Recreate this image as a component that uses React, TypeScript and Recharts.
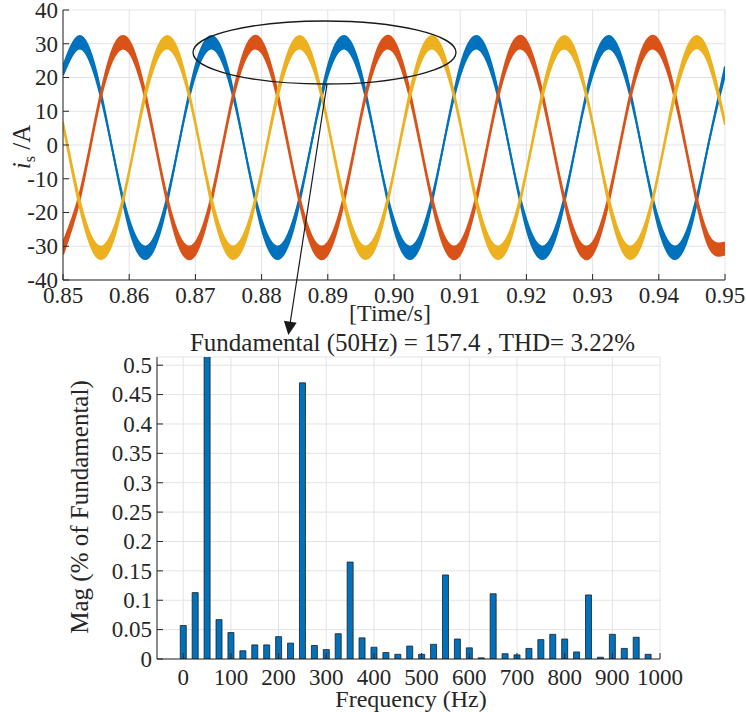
import React from "react";
import { ComposedChart, Area, Bar, XAxis, YAxis, CartesianGrid } from "recharts";

// time axis of the current waveform (s)
const times = [
  0.85, 0.8525, 0.855, 0.8575, 0.86, 0.8625, 0.865, 0.8675,
  0.87, 0.8725, 0.875, 0.8775, 0.88, 0.8825, 0.885, 0.8875,
  0.89, 0.8925, 0.895, 0.8975, 0.9, 0.9025, 0.905, 0.9075,
  0.91, 0.9125, 0.915, 0.9175, 0.92, 0.9225, 0.925, 0.9275,
  0.93, 0.9325, 0.935, 0.9375, 0.94, 0.9425, 0.945, 0.9475,
  0.95,
];

// phase currents: lower / upper edge of the ripple band (A)
const phaseALo = [
  20.7, 28.6, 19.4, -1.8, -24.8, -33.8, -23.4, 0.2,
  20.7, 28.6, 19.4, -1.8, -24.8, -33.8, -23.4, 0.2,
  20.7, 28.6, 19.4, -1.8, -24.8, -33.8, -23.4, 0.2,
  20.7, 28.6, 19.4, -1.8, -24.8, -33.8, -23.4, 0.2,
  20.7, 28.6, 19.4, -1.8, -24.8, -33.8, -23.4, 0.2,
  20.7,
];
const phaseAHi = [
  23.3, 32.3, 21.9, -1.7, -22.2, -30.1, -20.9, 0.3,
  23.3, 32.3, 21.9, -1.7, -22.2, -30.1, -20.9, 0.3,
  23.3, 32.3, 21.9, -1.7, -22.2, -30.1, -20.9, 0.3,
  23.3, 32.3, 21.9, -1.7, -22.2, -30.1, -20.9, 0.3,
  23.3, 32.3, 21.9, -1.7, -22.2, -30.1, -20.9, 0.3,
  23.3,
];
const phaseBLo = [
  -32.4, -16.4, 7.7, 25.2, 27.4, 13.1, -10.3, -29.9,
  -32.4, -16.4, 7.7, 25.2, 27.4, 13.1, -10.3, -29.9,
  -32.4, -16.4, 7.7, 25.2, 27.4, 13.1, -10.3, -29.9,
  -32.4, -16.4, 7.7, 25.2, 27.4, 13.1, -10.3, -29.9,
  -32.4, -16.4, 7.7, 25.2, 27.4, 13.1, -10.3, -29.9,
  -32.4,
];
const phaseBHi = [
  -28.9, -14.6, 8.8, 28.4, 30.9, 14.9, -9.2, -26.7,
  -28.9, -14.6, 8.8, 28.4, 30.9, 14.9, -9.2, -26.7,
  -28.9, -14.6, 8.8, 28.4, 30.9, 14.9, -9.2, -26.7,
  -28.9, -14.6, 8.8, 28.4, 30.9, 14.9, -9.2, -26.7,
  -28.9, -14.6, 8.8, 28.4, 30.9, 14.9, -9.2, -26.7,
  -28.9,
];
const phaseCLo = [
  6.0, -18.2, -32.9, -28.8, -8.3, 14.7, 27.9, 24.2,
  6.0, -18.2, -32.9, -28.8, -8.3, 14.7, 27.9, 24.2,
  6.0, -18.2, -32.9, -28.8, -8.3, 14.7, 27.9, 24.2,
  6.0, -18.2, -32.9, -28.8, -8.3, 14.7, 27.9, 24.2,
  6.0, -18.2, -32.9, -28.8, -8.3, 14.7, 27.9, 24.2,
  6.0,
];
const phaseCHi = [
  6.8, -16.2, -29.4, -25.7, -7.5, 16.7, 31.4, 27.3,
  6.8, -16.2, -29.4, -25.7, -7.5, 16.7, 31.4, 27.3,
  6.8, -16.2, -29.4, -25.7, -7.5, 16.7, 31.4, 27.3,
  6.8, -16.2, -29.4, -25.7, -7.5, 16.7, 31.4, 27.3,
  6.8, -16.2, -29.4, -25.7, -7.5, 16.7, 31.4, 27.3,
  6.8,
];

// FFT spectrum, % of fundamental (the 50 Hz bar runs off the top)
const freqs = [
  0, 25, 50, 75, 100, 125, 150, 175, 200, 225,
  250, 275, 300, 325, 350, 375, 400, 425, 450, 475,
  500, 525, 550, 575, 600, 625, 650, 675, 700, 725,
  750, 775, 800, 825, 850, 875, 900, 925, 950, 975,
];
const mags = [
  0.057, 0.113, 100, 0.067, 0.045, 0.014, 0.024, 0.024, 0.038, 0.027,
  0.47, 0.023, 0.016, 0.043, 0.165, 0.036, 0.02, 0.011, 0.008, 0.022,
  0.008, 0.025, 0.143, 0.034, 0.019, 0.002, 0.111, 0.009, 0.007, 0.018,
  0.033, 0.042, 0.034, 0.012, 0.109, 0.003, 0.042, 0.018, 0.037, 0.008,
];

const timeTicks = [0.85, 0.86, 0.87, 0.88, 0.89, 0.9, 0.91, 0.92, 0.93, 0.94, 0.95];
const currentTicks = [-40, -30, -20, -10, 0, 10, 20, 30, 40];
const freqTicks = [0, 100, 200, 300, 400, 500, 600, 700, 800, 900, 1000];
const magTicks = [0, 0.05, 0.1, 0.15, 0.2, 0.25, 0.3, 0.35, 0.4, 0.45, 0.5];

const FONT = "'Liberation Serif', 'Times New Roman', serif";
const INK = "#262626";
const GRID = "#e3e3e3";
const BLUE = "#0072BD";
const ORANGE = "#D95319";
const YELLOW = "#EDB120";

const waveData = times.map((t, i) => ({
  t,
  aLo: phaseALo[i], aHi: phaseAHi[i],
  bLo: phaseBLo[i], bHi: phaseBHi[i],
  cLo: phaseCLo[i], cHi: phaseCHi[i],
}));
const spectrum = freqs.map((f, i) => ({ f, mag: mags[i] }));

const inkLine = { stroke: INK, strokeWidth: 1 };
const serif = { fontFamily: FONT };

// serif tick labels, MATLAB style
function BottomTick(props: any) {
  const { x, y, payload, fmt } = props;
  const v = payload.value;
  return (
    <text x={x} y={y} dy="0.71em" textAnchor="middle" style={serif} fontSize={23} fill={INK}>
      {fmt ? fmt(v) : String(v)}
    </text>
  );
}

function LeftTick(props: any) {
  const { x, y, payload } = props;
  return (
    <text x={x} y={y} dy="0.34em" textAnchor="end" style={serif} fontSize={23} fill={INK}>
      {String(payload.value)}
    </text>
  );
}

export default function App() {
  return (
    <div style={{ position: "absolute", left: 0, top: 0, width: 746, height: 712, background: "#fff", ...serif }}>
      <div style={{ position: "absolute", left: 0, top: 0 }}>
        <ComposedChart width={746} height={330} data={waveData} margin={{ top: 10, right: 21, left: 0, bottom: 0 }}>
          <CartesianGrid stroke={GRID} strokeWidth={1} />
          <XAxis dataKey="t" type="number" domain={[0.85, 0.95]} ticks={timeTicks} allowDataOverflow
            interval={0} height={50} tickSize={-6} tickMargin={13}
            tick={(p: any) => <BottomTick {...p} fmt={(v: number) => v.toFixed(2)} />}
            axisLine={inkLine} tickLine={inkLine} />
          <XAxis xAxisId="top" orientation="top" type="number" domain={[0.85, 0.95]} ticks={timeTicks}
            allowDataOverflow height={0} tickSize={-6} tick={false} axisLine={inkLine} tickLine={inkLine} />
          <YAxis type="number" domain={[-40, 40]} ticks={currentTicks} allowDataOverflow interval={0}
            width={63} tickSize={-6} tickMargin={11} tick={(p: any) => <LeftTick {...p} />}
            axisLine={inkLine} tickLine={inkLine} />
          <YAxis yAxisId="right" orientation="right" type="number" domain={[-40, 40]} ticks={currentTicks}
            allowDataOverflow width={0} tickSize={-6} tick={false} axisLine={inkLine} tickLine={inkLine} />
          <Area type="natural" dataKey={(d: any) => [d.aLo, d.aHi]} stroke={BLUE} strokeWidth={2}
            fill={BLUE} fillOpacity={1} dot={false} activeDot={false} isAnimationActive={false} />
          <Area type="natural" dataKey={(d: any) => [d.bLo, d.bHi]} stroke={ORANGE} strokeWidth={2}
            fill={ORANGE} fillOpacity={1} dot={false} activeDot={false} isAnimationActive={false} />
          <Area type="natural" dataKey={(d: any) => [d.cLo, d.cHi]} stroke={YELLOW} strokeWidth={2}
            fill={YELLOW} fillOpacity={1} dot={false} activeDot={false} isAnimationActive={false} />
        </ComposedChart>
      </div>

      <div style={{ position: "absolute", left: 0, top: 330 }}>
        <ComposedChart width={746} height={382} data={spectrum} margin={{ top: 27, right: 86, left: 0, bottom: 0 }}>
          <CartesianGrid stroke={GRID} strokeWidth={1} />
          <XAxis dataKey="f" type="number" domain={[-55, 1000]} ticks={freqTicks} allowDataOverflow
            interval={0} height={53} tickSize={-6} tickMargin={16} tick={(p: any) => <BottomTick {...p} />}
            axisLine={inkLine} tickLine={inkLine} />
          <XAxis xAxisId="top" orientation="top" type="number" domain={[-55, 1000]} ticks={freqTicks}
            allowDataOverflow height={0} tickSize={-6} tick={false} axisLine={inkLine} tickLine={inkLine} />
          <YAxis type="number" domain={[0, 0.514]} ticks={magTicks} allowDataOverflow interval={0}
            width={157} tickSize={-6} tickMargin={11} tick={(p: any) => <LeftTick {...p} />}
            axisLine={inkLine} tickLine={inkLine} />
          <YAxis yAxisId="right" orientation="right" type="number" domain={[0, 0.514]} ticks={magTicks}
            allowDataOverflow width={0} tickSize={-6} tick={false} axisLine={inkLine} tickLine={inkLine} />
          <Bar dataKey="mag" barSize={6} fill={BLUE} stroke="#1e1e1e" strokeWidth={0.8}
            isAnimationActive={false} />
        </ComposedChart>
      </div>

      <svg width={746} height={712} style={{ position: "absolute", left: 0, top: 0, pointerEvents: "none", ...serif }}
        fill={INK}>
        <ellipse cx={324.5} cy={52.5} rx={131.5} ry={31.5} fill="none" stroke="#1a1a1a" strokeWidth={1.3} />
        <line x1={327} y1={84} x2={290} y2={324} stroke="#1a1a1a" strokeWidth={1.2} />
        <polygon points="288.3,335 296.7,322.8 283.9,320.8" fill="#1a1a1a" />

        <text x={30} y={147} fontSize={25} textAnchor="middle" transform="rotate(-90 30 147)">
          <tspan fontStyle="italic">i</tspan>
          <tspan fontSize={16} dy={5}>s</tspan>
          <tspan dy={-5}> /A</tspan>
        </text>
        <text x={390} y={321} fontSize={24} textAnchor="middle">[Time/s]</text>

        <text x={412.5} y={351} fontSize={25} textAnchor="middle">
          Fundamental (50Hz) = 157.4 , THD= 3.22%
        </text>
        <text x={88} y={507} fontSize={25} textAnchor="middle" transform="rotate(-90 88 507)">
          Mag (% of Fundamental)
        </text>
        <text x={411} y={707} fontSize={24} textAnchor="middle">Frequency (Hz)</text>
      </svg>
    </div>
  );
}
